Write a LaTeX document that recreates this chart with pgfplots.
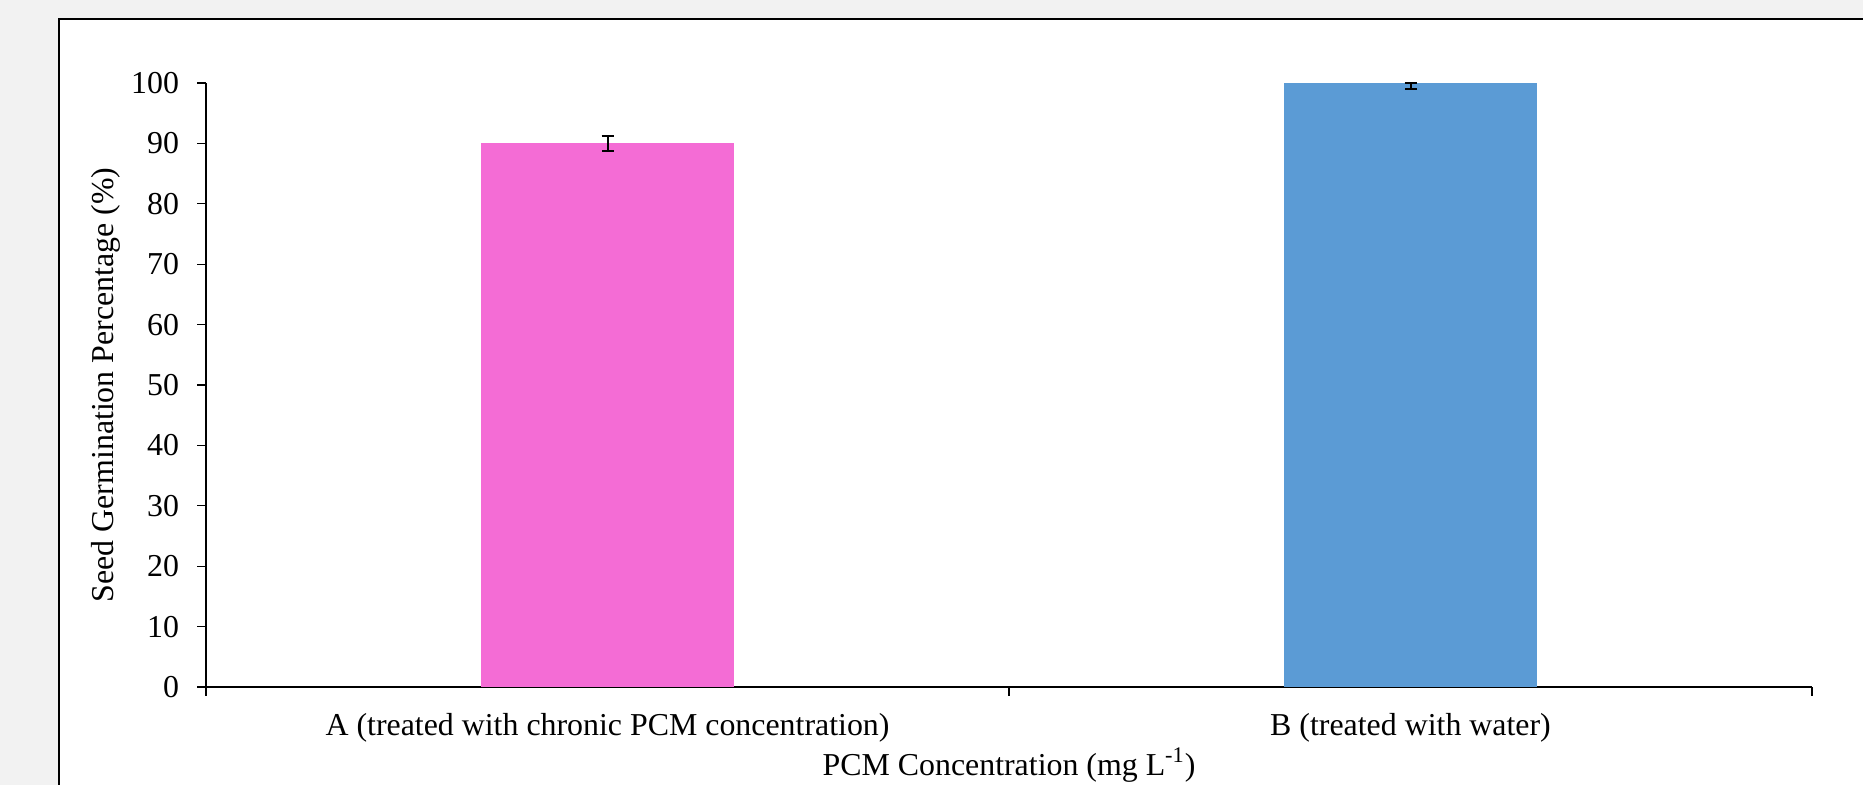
\documentclass[border=0pt]{standalone}
\usepackage{fontspec}
\setmainfont{Liberation Serif}
\usepackage{pgfplots}
\pgfplotsset{compat=1.18}
\definecolor{bgray}{HTML}{F2F2F2}
\definecolor{barpink}{HTML}{F46CD5}
\definecolor{barblue}{HTML}{5B9BD5}
\begin{document}
\begin{tikzpicture}
\useasboundingbox (0,0) rectangle (931.5bp,392.5bp);
\clip (0,0) rectangle (931.5bp,392.5bp);
\fill[bgray] (0,0) rectangle (931.5bp,392.5bp);
\filldraw[fill=white, draw=black, line width=0.8bp] (29.5bp,-10bp) rectangle (960bp,383bp);
\begin{axis}[
  at={(103bp,49bp)}, anchor=south west,
  scale only axis, width=803bp, height=302bp,
  xmin=-0.5, xmax=1.5, ymin=0, ymax=100,
  axis x line*=bottom, axis y line*=left,
  axis line style={line width=0.6bp, -},
  tick align=outside, major tick length=4.5bp,
  tick style={line width=0.6bp, black},
  xtick={-0.5,0.5,1.5}, xticklabels={},
  extra x ticks={0,1},
  extra x tick labels={A (treated with chronic PCM concentration), B (treated with water)},
  extra x tick style={major tick length=0pt, xticklabel style={anchor=base, yshift=-24bp, inner sep=0pt}},
  ytick={0,10,...,100},
  /pgf/number format/assume math mode=true,
  tick label style={font=\fontsize{16}{19}\selectfont},
  yticklabel style={anchor=east, inner sep=0pt, xshift=-8.8bp},
  label style={font=\fontsize{16}{19}\selectfont},
  xlabel={PCM Concentration (mg L\textsuperscript{-1})},
  xlabel style={at={(axis description cs:0.5,-0.146)}, anchor=base, inner sep=0pt},
  ylabel={Seed Germination Percentage (\%)},
  ylabel style={at={(axis description cs:-0.0625,0.5)}, anchor=center, rotate=0},
  clip=false,
  ybar, bar width=126.5bp,
]
\addplot[fill=barpink, draw=none, bar shift=0pt,
  error bars/.cd, y dir=both, y explicit,
  error bar style={line width=1bp, black},
  error mark options={rotate=90, mark size=3bp, line width=1bp, black}]
  coordinates {(0,90) +- (0,1.2)};
\addplot[fill=barblue, draw=none, bar shift=0pt,
  error bars/.cd, y dir=both, y explicit,
  error bar style={line width=1bp, black},
  error mark options={rotate=90, mark size=3bp, line width=1bp, black}]
  coordinates {(1,100) += (0,0) -= (0,1)};
\end{axis}
\end{tikzpicture}
\end{document}
